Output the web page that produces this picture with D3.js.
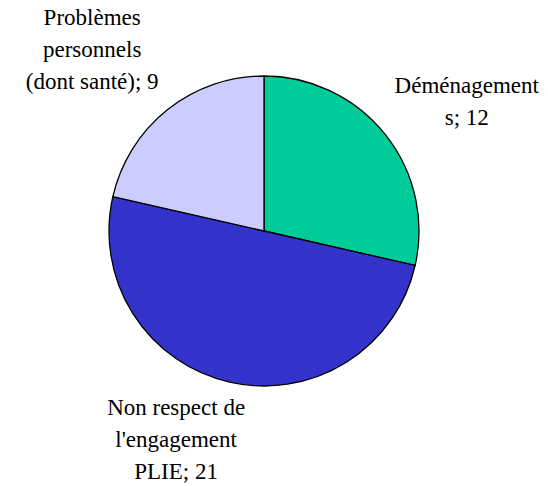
<!DOCTYPE html>
<html>
<head>
<meta charset="utf-8">
<script src="https://cdn.jsdelivr.net/npm/d3@7"></script>
<style>
body { margin: 0; background: #fff; }
#chart { position: relative; width: 548px; height: 486px; }
#chart svg { position: absolute; left: 0; top: 0; }
.lbl { position: absolute; width: 240px; text-align: center; color: #000; white-space: nowrap; font-family: 'Liberation Serif', 'Times New Roman', serif; }
</style>
</head>
<body>
<div id="chart"></div>
<script>
// slice data, in clockwise order from the top
var labels = [["Déménagement", "s; 12"], ["Non respect de", "l'engagement", "PLIE; 21"], ["Problèmes", "personnels", "(dont santé); 9"]],
values = [12, 21, 9],
colors = ["#00CC99", "#3333CC", "#CCCCFF"];

var width = 548, height = 486,
cx = 264, cy = 231,
radius = 155,
fontSize = 23,
lineH = 32,
fontFam = "'Liberation Serif', 'Times New Roman', serif";

var chart = d3.select("#chart");

var svg = chart
	.append("svg")
	.attr("width", width)
	.attr("height", height);

var g = svg.append("g").attr("transform", "translate(" + cx + "," + cy + ")");

var pie = d3.pie().sort(null).value(function(d) { return d; });
var arcs = pie(values);

var arc = d3.arc().innerRadius(0).outerRadius(radius);

g.selectAll(".slice")
	.data(arcs)
	.enter().append("path")
	.attr("class", "slice")
	.attr("d", arc)
	.attr("fill", function(d, i) { return colors[i]; })
	.attr("stroke", "#000")
	.attr("stroke-width", 1.3);

// label anchor (middle baseline of the block): distance along the slice's mid angle, with a turn
var labelDist = [236, 234, 244],
labelTurn = [7.8, 9.2, -6.2];

// baseline of the first line inside a line box
var baseOff = (lineH - 1.107 * fontSize) / 2 + 0.891 * fontSize;

var lbls = chart.selectAll(".lbl")
	.data(arcs)
	.enter().append("div")
	.attr("class", "lbl")
	.style("font-family", fontFam)
	.style("font-size", fontSize + "px")
	.style("line-height", lineH + "px")
	.style("left", function(d, i) {
		var a = (d.startAngle + d.endAngle) / 2 + labelTurn[i] * Math.PI / 180;
		return (cx + labelDist[i] * Math.sin(a) - 120) + "px";
	})
	.style("top", function(d, i) {
		var a = (d.startAngle + d.endAngle) / 2 + labelTurn[i] * Math.PI / 180;
		var y = cy - labelDist[i] * Math.cos(a);
		return (y - baseOff - (labels[i].length - 1) * lineH / 2) + "px";
	})
	.html(function(d, i) {
		return labels[i].map(function(s) { return s.replace(/&/g, "&amp;").replace(/</g, "&lt;"); }).join("<br>");
	});

// make sure the serif face is in use once it is loaded
if (document.fonts && document.fonts.load) {
	document.fonts.load(fontSize + "px 'Liberation Serif'", "Déménagement").then(function() {
		lbls.style("font-family", fontFam);
	});
}
</script>
</body>
</html>
